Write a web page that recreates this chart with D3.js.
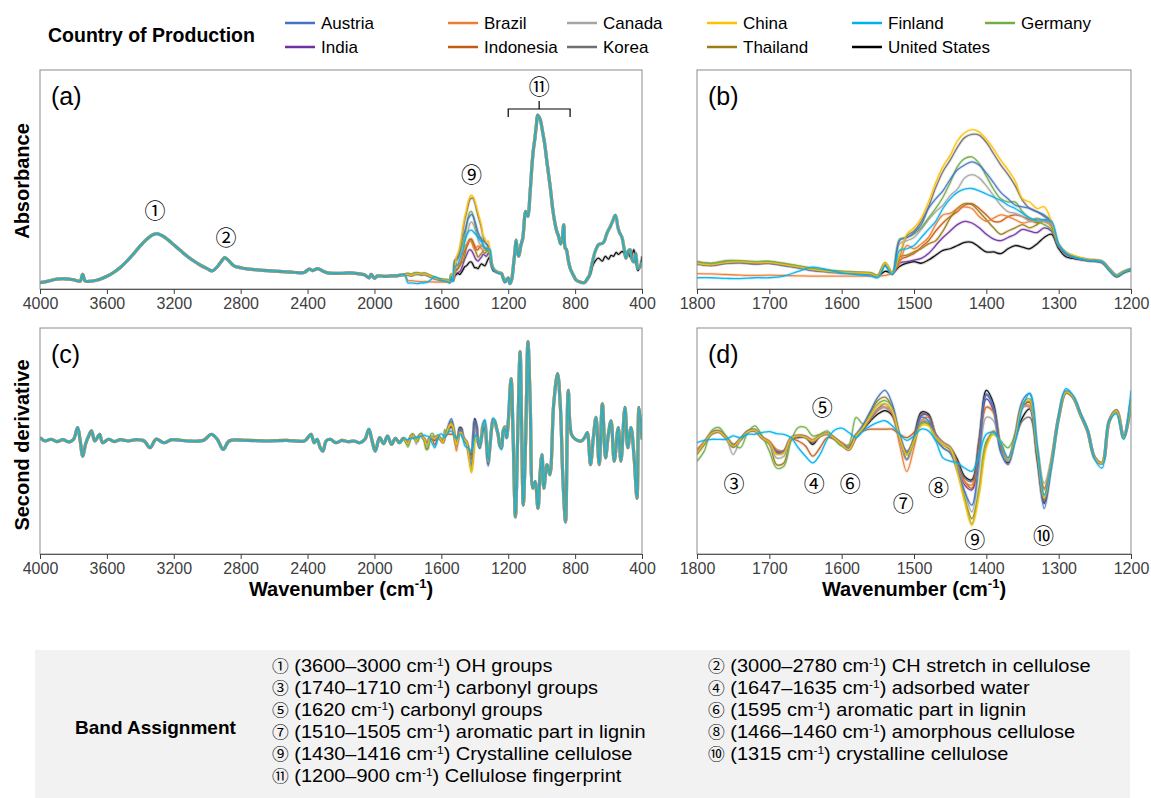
<!DOCTYPE html>
<html>
<head>
<meta charset="utf-8">
<script src="https://cdn.jsdelivr.net/npm/d3@7"></script>
<style>
  body { margin: 0; background: #fff; }
  svg { display: block; font-family: "Liberation Sans", Arial, sans-serif; }
</style>
</head>
<body>
<svg id="chart" width="1151" height="798"></svg>
<script>
// ---------------- Countries ----------------
const countries = ["Austria", "Brazil", "Canada", "China", "Finland", "Germany",
                   "India", "Indonesia", "Korea", "Thailand", "United States"];
const countryColors = ["#4472c4", "#ed7d31", "#a5a5a5", "#ffc000", "#00b0f0", "#70ad47",
                       "#7030a0", "#c55a11", "#6f6f6f", "#9c7c14", "#000000"];
// order in which spectra are stacked (last one ends up on top)
const drawOrder = ["United States", "India", "Indonesia", "Thailand", "Brazil", "Korea",
                   "Canada", "Germany", "Austria", "China", "Finland"];

// ---------------- Axis ticks ----------------
const ticksFull = [4000, 3600, 3200, 2800, 2400, 2000, 1600, 1200, 800, 400];
const ticksZoom = [1800, 1700, 1600, 1500, 1400, 1300, 1200];

// ---------------- Absorbance (mAU), shared parts [wavenumber, value] ----------------
const absHigh = [[4000,37],[3950,45],[3900,55],[3850,57],[3800,52],[3760,45],[3745,80],[3730,45],
  [3700,44],[3650,52],[3600,70],[3560,90],[3520,116],[3480,150],[3440,188],[3400,230],[3360,266],
  [3320,290],[3300,293],[3270,283],[3240,265],[3200,235],[3160,205],[3120,175],[3080,150],[3040,128],
  [3000,110],[2970,98],[2940,120],[2910,155],[2895,168],[2870,150],[2840,125],[2800,115],[2750,108],
  [2700,104],[2600,97],[2500,92],[2420,90],[2390,108],[2370,100],[2340,110],[2310,98],[2280,88],
  [2200,86],[2150,88],[2100,84],[2060,78],[2030,62],[2020,80],[2000,60],[1980,72],[1940,70],
  [1900,72],[1860,74],[1820,78]];
const absFinger = [[1190,32],[1180,50],[1167,142],[1160,200],[1153,260],[1145,200],[1137,175],
  [1125,230],[1113,270],[1100,395],[1095,410],[1088,390],[1082,385],[1070,500],[1058,650],[1050,730],
  [1041,790],[1032,860],[1024,915],[1015,905],[1005,880],[995,830],[982,765],[970,680],[958,600],
  [945,510],[935,430],[923,360],[911,310],[899,280],[887,240],[878,260],[868,340],[860,220],[852,210],
  [840,150],[828,108],[810,75],[793,50],[770,40],[744,37]];
const absTail = [[725,60],[715,74],[705,110],[697,143],[680,200],[661,235],[650,240],[637,242],
  [625,255],[612,290],[602,310],[590,330],[575,360],[560,390],[552,370],[545,330],[535,300],[520,275],
  [508,220],[496,165],[485,200],[472,210],[460,160],[449,145],[437,190],[425,110],[412,120],[400,143]];
const absTailUS = [[725,55],[705,90],[697,120],[680,150],[661,165],[637,150],[620,175],[600,160],
  [585,180],[570,175],[555,195],[540,185],[520,200],[505,190],[496,165],[485,200],[470,170],[460,180],
  [449,210],[437,150],[425,100],[412,120],[400,175]];

// ---------------- Absorbance 1800–1200 cm-1 by country (mAU) ----------------
const wnBand = [1800,1780,1760,1740,1720,1700,1680,1660,1640,1620,1600,1580,1560,1550,1540,1530,
  1520,1510,1500,1490,1480,1470,1460,1450,1440,1430,1420,1410,1400,1390,1380,1370,1360,1350,1340,
  1330,1320,1310,1300,1290,1280,1260,1240,1230,1220,1210,1200];
const absAustria = [78,74,80,82,79,80,74,66,58,54,50,48,46,40,75,47,150,160,175,200,250,280,305,340,370,385,395,385,360,330,300,280,260,255,250,240,230,210,135,110,100,90,84,62,42,54,62];
const absBrazil = [48,47,45,43,42,43,42,41,40,40,40,40,40,40,42,50,80,135,125,140,160,200,230,235,250,255,250,225,210,220,230,225,215,205,210,220,210,195,135,112,102,92,86,60,40,52,60];
const absCanada = [82,77,84,86,82,84,76,70,62,56,53,51,49,41,80,49,140,150,160,185,215,240,260,290,310,345,355,345,320,290,260,240,235,225,210,210,210,200,135,112,100,90,85,62,42,54,62];
const absChina = [80,75,82,84,81,82,76,68,60,55,52,50,48,40,80,50,105,170,190,220,270,330,380,415,460,485,495,488,465,435,400,370,335,280,270,250,255,210,140,115,105,92,85,62,42,54,62];
const absFinland = [35,35,33,32,35,35,40,55,68,60,50,45,40,35,70,45,120,125,135,160,185,210,250,280,300,310,312,305,295,285,275,260,250,235,220,215,215,210,140,112,100,90,84,60,40,52,62];
const absGermany = [85,80,88,88,85,86,80,72,64,58,55,52,50,42,82,50,155,160,170,190,220,250,285,330,380,405,410,390,350,310,280,270,270,240,220,210,200,185,135,112,100,90,85,62,42,54,62];
const absIndia = [78,73,80,82,78,80,73,66,58,54,51,49,47,40,76,47,80,85,90,95,110,135,160,180,200,210,205,190,170,155,150,160,170,185,180,175,190,180,130,108,98,88,82,60,40,52,60];
const absIndonesia = [80,76,82,84,80,82,75,68,60,55,52,50,48,40,78,48,90,100,110,130,150,180,205,225,240,260,265,250,230,210,210,225,230,225,215,205,210,200,135,112,100,90,85,62,42,54,62];
const absKorea = [79,74,81,83,79,81,74,67,59,54,51,49,47,40,77,48,100,165,180,210,255,315,365,400,440,470,480,478,455,420,385,355,320,275,250,240,225,205,135,112,102,90,85,62,42,54,62];
const absThailand = [84,79,86,86,83,85,78,70,62,57,54,51,49,41,80,49,100,105,115,125,140,150,180,220,250,265,262,240,215,190,170,180,190,200,190,200,215,195,135,112,100,90,85,62,42,54,62];
const absUS = [82,76,83,85,81,83,76,69,61,56,53,51,48,40,55,50,70,80,85,80,90,105,120,125,135,145,145,130,115,115,110,125,135,130,125,140,160,170,125,100,95,88,82,58,38,50,58];
const absBandSeries = [absAustria, absBrazil, absCanada, absChina, absFinland, absGermany,
                       absIndia, absIndonesia, absKorea, absThailand, absUS];

// ---------------- Second derivative (arb. units), shared parts [wavenumber, value] ----------------
const d2High = [[4000,20],[3969,-5],[3934,8],[3898,-10],[3863,5],[3827,-12],[3799,8],[3775,95],
  [3761,8],[3744,-118],[3728,-30],[3709,32],[3692,70],[3673,-5],[3657,20],[3643,45],[3626,-18],
  [3591,8],[3555,-10],[3520,5],[3472,-5],[3425,5],[3377,-5],[3342,-55],[3306,8],[3259,-18],[3212,5],
  [3117,-5],[3022,0],[2975,45],[2940,8],[2904,-68],[2869,-5],[2762,0],[2644,-5],[2525,0],[2419,-5],
  [2395,25],[2379,45],[2360,-18],[2343,8],[2324,-55],[2308,-80],[2289,-5],[2265,8],[2230,-18],
  [2194,0],[2158,-10],[2123,-5],[2087,-18],[2057,8],[2033,82],[2014,-5],[1995,-80],[1969,20],
  [1945,-25],[1922,32],[1898,-30],[1874,15],[1851,-18],[1827,15]];
const d2Low = [[1183,457],[1171,45],[1157,-568],[1143,45],[1129,658],[1120,120],[1110,-480],
  [1096,-5],[1082,732],[1068,245],[1053,-355],[1039,-305],[1022,-505],[1010,-255],[998,-105],
  [987,-355],[968,-180],[951,-255],[928,270],[905,495],[888,245],[874,-255],[857,-605],[841,370],
  [822,45],[798,8],[762,-5],[738,32],[727,58],[708,-180],[691,20],[675,170],[656,-180],[637,270],
  [618,-130],[601,45],[585,145],[566,-155],[542,95],[526,-155],[502,245],[485,-55],[466,95],
  [447,-130],[430,-430],[418,245],[400,8]];

// ---------------- Second derivative 1800–1200 cm-1 by country ----------------
const wnD2 = [1800,1790,1780,1770,1760,1750,1740,1730,1720,1710,1700,1690,1680,1670,1660,1650,1640,
  1630,1620,1610,1600,1590,1580,1570,1560,1550,1540,1530,1520,1510,1500,1490,1480,1470,1460,1450,
  1440,1430,1420,1410,1400,1390,1380,1370,1360,1350,1340,1330,1320,1310,1300,1290,1280,1270,1260,
  1250,1240,1230,1220,1210,1200];
const d2Austria = [-25,2,34,40,22,-2,18,40,44,22,5,-20,-20,20,26,24,10,26,32,20,2,-12,28,60,100,140,160,120,30,-20,10,80,70,20,-10,-25,-75,-140,-180,-40,150,110,-25,-60,30,130,150,-10,-190,-60,85,158,142,92,42,-38,-55,72,102,22,135];
const d2Brazil = [-15,8,35,40,22,0,16,38,40,22,10,-15,-18,20,28,25,15,28,33,20,5,-10,25,48,75,100,110,90,0,-80,-10,70,80,30,5,-10,-55,-110,-120,-10,110,95,-10,-45,25,110,115,-10,-135,-45,82,155,140,90,40,-40,-55,70,100,20,130];
const d2Canada = [-22,4,32,38,20,-30,14,38,42,20,4,-40,-35,18,25,22,10,25,32,18,0,-15,25,50,80,105,110,95,20,-45,12,70,65,25,5,-10,-65,-140,-200,-70,80,70,-20,-50,30,110,110,-10,-115,-45,80,155,140,90,40,-40,-55,70,100,20,125];
const d2China = [-25,4,32,38,20,-5,15,37,42,20,5,-28,-25,18,25,22,10,25,32,18,0,-15,25,50,85,115,120,100,22,-30,10,55,55,20,0,-12,-80,-170,-240,-150,-10,30,5,-45,20,115,130,-15,-160,-55,80,155,140,90,40,-40,-55,70,100,20,130];
const d2Finland = [5,12,15,15,15,25,20,30,30,35,38,32,30,20,-10,-35,-55,-30,15,42,48,35,20,40,55,65,70,55,30,12,25,45,40,10,-40,-50,-55,-70,-80,-30,30,35,5,-40,10,110,152,0,-150,-60,80,165,145,92,42,-45,-70,70,90,15,160];
const d2Germany = [-50,-20,40,50,25,0,-10,35,55,25,-20,-70,-65,10,50,50,25,30,40,15,-5,0,80,60,90,120,130,110,30,-30,5,60,60,15,-10,-25,-80,-160,-235,-130,10,30,10,-10,30,120,135,-10,-150,-60,80,155,140,90,40,-40,-55,70,100,20,130];
const d2India = [-18,6,33,38,20,-4,15,37,41,19,4,-24,-21,18,24,21,8,24,31,18,0,-14,24,50,80,105,110,90,20,-30,15,85,85,25,0,-15,-65,-120,-135,0,135,100,-15,-50,20,110,125,-25,-165,-55,80,155,140,90,40,-40,-55,70,100,20,128];
const d2Indonesia = [-20,5,30,36,20,-3,14,36,40,20,8,-20,-22,15,10,-5,-35,-10,20,15,5,-5,30,40,45,45,45,45,30,20,35,70,62,25,5,-10,-55,-110,-130,0,110,95,-5,-45,25,110,110,-5,-130,-45,80,152,138,88,40,-40,-55,70,98,20,125];
const d2Korea = [-22,3,30,36,18,-8,12,36,40,18,3,-28,-25,16,22,20,5,24,30,16,-2,-17,24,48,75,105,120,95,22,-25,18,90,85,28,5,-8,-55,-100,-110,15,145,110,-15,-50,20,70,80,-30,-170,-55,78,152,138,88,38,-42,-57,68,98,18,120];
const d2Thailand = [-30,0,34,40,20,-8,14,38,44,20,2,-60,-55,16,25,22,10,25,32,18,0,-15,28,55,95,130,140,110,25,-25,10,65,60,20,0,-15,-75,-160,-220,-135,0,40,0,-40,25,120,125,-15,-160,-55,80,155,140,90,40,-40,-55,70,100,20,130];
const d2US = [-20,5,32,38,20,-5,15,38,42,20,5,-25,-22,18,20,22,0,25,32,18,0,-15,22,45,70,90,100,85,20,-45,20,95,90,30,5,-10,-45,-95,-105,10,160,120,-10,-55,15,80,105,-40,-175,-60,80,155,140,90,40,-40,-55,70,100,20,125];
const d2BandSeries = [d2Austria, d2Brazil, d2Canada, d2China, d2Finland, d2Germany,
                      d2India, d2Indonesia, d2Korea, d2Thailand, d2US];

// ---------------- Band assignment table ----------------
const bandLeft = [["①", "3600–3000", "OH groups"], ["③", "1740–1710", "carbonyl groups"],
  ["⑤", "1620", "carbonyl groups"], ["⑦", "1510–1505", "aromatic part in lignin"],
  ["⑨", "1430–1416", "Crystalline cellulose"], ["⑪", "1200–900", "Cellulose fingerprint"]];
const bandRight = [["②", "3000–2780", "CH stretch in cellulose"], ["④", "1647–1635", "adsorbed water"],
  ["⑥", "1595", "aromatic part in lignin"], ["⑧", "1466–1460", "amorphous cellulose"],
  ["⑩", "1315", "crystalline cellulose"]];

// ---------------- Series builders ----------------
const zip = (xs, ys) => d3.zip(xs, ys);
const absFull = ci => [...absHigh, ...zip(wnBand, absBandSeries[ci]), ...absFinger,
  ...(countries[ci] === "United States" ? absTailUS : absTail)];
const absZoom = ci => zip(wnBand, absBandSeries[ci]);
const d2Full = ci => [...d2High, ...zip(wnD2, d2BandSeries[ci]), ...d2Low];
const d2Zoom = ci => zip(wnD2, d2BandSeries[ci]);

const CIRCLE_FONT = "'Noto Sans CJK JP', 'DejaVu Sans', sans-serif";
const svg = d3.select("#chart");

const TOP_ROW = [70, 289];
const BOTTOM_ROW = [328, 554];
const panels = [
  { id: "a", x: [40, 642], y: TOP_ROW, xd: [4000, 400], yd: [3.4, 1151.6], ticks: ticksFull, series: absFull },
  { id: "b", x: [697, 1131], y: TOP_ROW, xd: [1800, 1200], yd: [0, 680], ticks: ticksZoom, series: absZoom },
  { id: "c", x: [40, 642], y: BOTTOM_ROW, xd: [4000, 400], yd: [-842, 832], ticks: ticksFull, series: d2Full },
  { id: "d", x: [697, 1131], y: BOTTOM_ROW, xd: [1800, 1200], yd: [-325, 345], ticks: ticksZoom, series: d2Zoom }
];

const scales = {};
panels.forEach(p => {
  const x = d3.scaleLinear().domain(p.xd).range(p.x);
  const y = d3.scaleLinear().domain(p.yd).range([p.y[1], p.y[0]]);
  scales[p.id] = { x, y };
  const g = svg.append("g").attr("class", "panel-" + p.id);

  g.append("clipPath").attr("id", "clip-" + p.id)
    .append("rect").attr("x", p.x[0]).attr("y", p.y[0])
    .attr("width", p.x[1] - p.x[0]).attr("height", p.y[1] - p.y[0]);

  const line = d3.line().x(d => x(d[0])).y(d => y(d[1])).curve(d3.curveCatmullRom.alpha(0.5));
  const plot = g.append("g").attr("clip-path", `url(#clip-${p.id})`);
  drawOrder.forEach(name => {
    const ci = countries.indexOf(name);
    const pts = p.series(ci);
    plot.append("path").attr("d", line(pts)).attr("fill", "none")
      .attr("stroke", countryColors[ci]).attr("stroke-width", 3.2).attr("stroke-opacity", 0.18);
    plot.append("path").attr("d", line(pts)).attr("fill", "none")
      .attr("stroke", countryColors[ci]).attr("stroke-width", 1.3).attr("stroke-opacity", 0.92)
      .attr("stroke-linejoin", "round");
  });

  // frame
  g.append("rect").attr("x", p.x[0]).attr("y", p.y[0])
    .attr("width", p.x[1] - p.x[0]).attr("height", p.y[1] - p.y[0])
    .attr("fill", "none").attr("stroke", "#8c8c8c").attr("stroke-width", 1);

  // x axis
  const ax = g.append("g").attr("transform", `translate(0,${p.y[1]})`)
    .call(d3.axisBottom(x).tickValues(p.ticks).tickSize(5).tickSizeOuter(0).tickPadding(4)
      .tickFormat(d3.format("d")));
  ax.attr("font-family", null);
  ax.select(".domain").attr("stroke", "#595959");
  ax.selectAll(".tick line").attr("stroke", "#404040");
  ax.selectAll(".tick text").attr("font-size", 16).attr("fill", "#404040")
    .attr("font-family", "'Liberation Sans', Arial, sans-serif");

  // panel letter
  g.append("text").attr("x", p.x[0] + 11).attr("y", p.y[0] + 35)
    .attr("font-size", 25).attr("fill", "#000").text(`(${p.id})`);
});

// ---------------- Axis titles ----------------
svg.append("text").attr("transform", "translate(22,181) rotate(-90)")
  .attr("text-anchor", "middle").attr("dominant-baseline", "central")
  .attr("font-size", 20).attr("font-weight", "bold").text("Absorbance");
svg.append("text").attr("transform", "translate(22,445) rotate(-90)")
  .attr("text-anchor", "middle").attr("dominant-baseline", "central")
  .attr("font-size", 20).attr("font-weight", "bold").text("Second derivative");

[341, 914].forEach(cx => {
  const t = svg.append("text").attr("x", cx).attr("y", 596).attr("text-anchor", "middle")
    .attr("font-size", 20).attr("font-weight", "bold");
  t.append("tspan").text("Wavenumber (cm");
  t.append("tspan").attr("font-size", 13).attr("dy", -8).text("-1");
  t.append("tspan").attr("dy", 8).text(")");
});

// ---------------- Band annotations ----------------
function circled(x, y, label, size) {
  svg.append("text").attr("x", x).attr("y", y).attr("text-anchor", "middle")
    .attr("dominant-baseline", "central").attr("font-size", size)
    .attr("font-family", CIRCLE_FONT).attr("fill", "#000").text(label);
}
const sa = scales.a, sd = scales.d;
circled(sa.x(3312), 209, "①", 21);
circled(sa.x(2888), 236, "②", 21);
circled(sa.x(1420), 173, "⑨", 21);
circled(sa.x(1015), 85, "⑪", 21);
svg.append("path")
  .attr("d", `M${sa.x(1200)},117V109H${sa.x(830)}V117M${sa.x(1015)},109V101`)
  .attr("fill", "none").attr("stroke", "#000").attr("stroke-width", 1.2);

const dTop = BOTTOM_ROW[0];
[["③", 1749, 154], ["④", 1638, 154], ["⑤", 1627, 78], ["⑥", 1588, 154],
 ["⑦", 1515, 174], ["⑧", 1466, 158], ["⑨", 1416, 210], ["⑩", 1321, 206]]
  .forEach(([lab, wn, dy]) => circled(sd.x(wn), dTop + dy, lab, 21));

// ---------------- Legend ----------------
svg.append("text").attr("x", 48).attr("y", 42).attr("font-size", 19.5)
  .attr("font-weight", "bold").text("Country of Production");
const legendCols = [285, 448, 567, 707, 852, 985];
countries.forEach((name, i) => {
  const row = i < 6 ? 0 : 1;
  const col = i < 6 ? i : i - 6;
  const lx = legendCols[col], ly = row === 0 ? 23 : 47;
  svg.append("line").attr("x1", lx).attr("x2", lx + 30).attr("y1", ly).attr("y2", ly)
    .attr("stroke", countryColors[i]).attr("stroke-width", 2.5);
  svg.append("text").attr("x", lx + 36).attr("y", ly).attr("dominant-baseline", "central")
    .attr("font-size", 17).attr("fill", "#000").text(name);
});

// ---------------- Band assignment box ----------------
svg.append("rect").attr("x", 35).attr("y", 650).attr("width", 1095).attr("height", 148)
  .attr("fill", "#f2f2f2");
svg.append("text").attr("x", 75).attr("y", 727).attr("dominant-baseline", "central")
  .attr("font-size", 19).attr("font-weight", "bold").text("Band Assignment");

function bandRow(x, y, [mark, range, desc]) {
  const t = svg.append("text")
    .attr("transform", `translate(${x},${y}) scale(1.08,1)`)
    .attr("font-size", 18.5).attr("fill", "#000");
  t.append("tspan").attr("font-family", CIRCLE_FONT).attr("font-size", 15.5).text(mark);
  t.append("tspan").text(` (${range} cm`);
  t.append("tspan").attr("font-size", 11).attr("dy", -6).text("-1");
  t.append("tspan").attr("dy", 6).text(`) ${desc}`);
}
bandLeft.forEach((r, i) => bandRow(272, 672 + i * 22, r));
bandRight.forEach((r, i) => bandRow(708, 672 + i * 22, r));
</script>
</body>
</html>
